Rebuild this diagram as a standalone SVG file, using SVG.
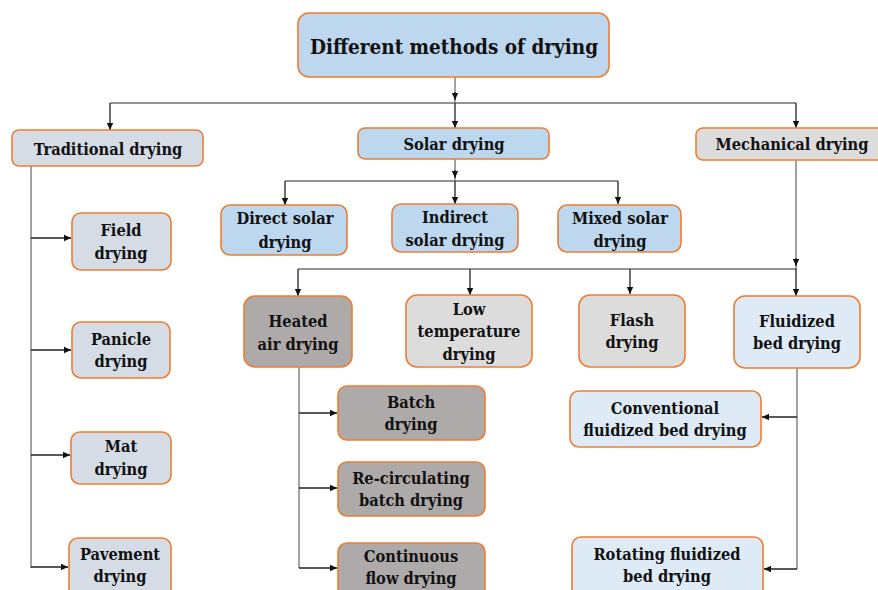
<svg xmlns="http://www.w3.org/2000/svg" width="878" height="590" viewBox="0 0 878 590">
<defs>
<marker id="ar" markerWidth="8" markerHeight="8" refX="7" refY="4" orient="auto" markerUnits="userSpaceOnUse">
<path d="M0,0.8 L7,4 L0,7.2 Z" fill="#111"/>
</marker>
<style>
.b{stroke:#ed7d31;stroke-width:1.6}
.blue{fill:#bdd7ee}
.lblue{fill:#deebf7}
.gblue{fill:#d6dce5}
.lgray{fill:#dcdcdc}
.dgray{fill:#aeaaaa}
text{font-family:"DejaVu Serif Condensed","DejaVu Serif","Liberation Serif",serif;font-stretch:condensed;font-weight:bold;font-size:16.3px;fill:#111;text-anchor:middle}
.t{font-size:20.5px}
.c line,.c path{stroke:#707070;stroke-width:1.3;fill:none}
.c .a{stroke:#222;marker-end:url(#ar)}
</style>
</defs>
<rect width="878" height="590" fill="#fff"/>
<g class="c" id="connectors">
<line x1="455" y1="77" x2="455" y2="103"/>
<line class="a" x1="455" y1="92" x2="455" y2="100"/>
<line x1="110" y1="103" x2="796" y2="103"/>
<line class="a" x1="110" y1="103" x2="110" y2="130"/>
<line class="a" x1="455" y1="103" x2="455" y2="128"/>
<line class="a" x1="796" y1="103" x2="796" y2="128"/>
<line x1="455" y1="159" x2="455" y2="181"/>
<line class="a" x1="455" y1="170" x2="455" y2="178"/>
<line x1="285" y1="181" x2="618" y2="181"/>
<line class="a" x1="285" y1="181" x2="285" y2="205"/>
<line class="a" x1="455" y1="181" x2="455" y2="204"/>
<line class="a" x1="618" y1="181" x2="618" y2="204"/>
<line x1="796" y1="160" x2="796" y2="269"/>
<line class="a" x1="796" y1="258" x2="796" y2="266"/>
<line x1="298" y1="269" x2="797" y2="269"/>
<line class="a" x1="298" y1="269" x2="298" y2="296"/>
<line class="a" x1="470" y1="269" x2="470" y2="295"/>
<line class="a" x1="630" y1="269" x2="630" y2="294"/>
<line class="a" x1="796" y1="269" x2="796" y2="296"/>
<line x1="31" y1="166" x2="31" y2="568"/>
<line class="a" x1="31" y1="238" x2="71" y2="238"/>
<line class="a" x1="31" y1="350" x2="71" y2="350"/>
<line class="a" x1="31" y1="455" x2="70" y2="455"/>
<line class="a" x1="31" y1="567" x2="68" y2="567"/>
<line x1="299" y1="367" x2="299" y2="568"/>
<line class="a" x1="299" y1="413" x2="337" y2="413"/>
<line class="a" x1="299" y1="488" x2="337" y2="488"/>
<line class="a" x1="299" y1="568" x2="337" y2="568"/>
<line x1="797" y1="368" x2="797" y2="569"/>
<line class="a" x1="797" y1="417" x2="762" y2="417"/>
<line class="a" x1="797" y1="569" x2="764" y2="569"/>
</g>
<g id="title"><rect class="b blue" x="298" y="13" width="311" height="64" rx="11"/><text class="t" x="454" y="54">Different methods of drying</text></g>
<g id="traditional"><rect class="b gblue" x="12" y="130" width="191" height="36" rx="7"/><text x="108" y="155">Traditional drying</text></g>
<g id="solar"><rect class="b blue" x="358" y="128" width="191" height="31" rx="7"/><text x="454" y="150">Solar drying</text></g>
<g id="mechanical"><rect class="b lgray" x="696" y="128" width="190" height="32" rx="7"/><text x="792" y="150">Mechanical drying</text></g>
<g id="direct"><rect class="b blue" x="221" y="205" width="126" height="50" rx="9"/><text x="285" y="224">Direct solar</text><text x="285" y="248">drying</text></g>
<g id="indirect"><rect class="b blue" x="392" y="204" width="126" height="48" rx="9"/><text x="455" y="223">Indirect</text><text x="455" y="246">solar drying</text></g>
<g id="mixed"><rect class="b blue" x="558" y="205" width="123" height="47" rx="9"/><text x="620" y="224">Mixed solar</text><text x="620" y="247">drying</text></g>
<g id="heated"><rect class="b dgray" x="244" y="296" width="108" height="71" rx="11"/><text x="298" y="327">Heated</text><text x="298" y="350">air drying</text></g>
<g id="lowtemp"><rect class="b lgray" x="406" y="295" width="126" height="72" rx="11"/><text x="469" y="315">Low</text><text x="469" y="337">temperature</text><text x="469" y="360">drying</text></g>
<g id="flash"><rect class="b lgray" x="579" y="295" width="106" height="72" rx="11"/><text x="632" y="326">Flash</text><text x="632" y="348">drying</text></g>
<g id="fluidized"><rect class="b lblue" x="734" y="296" width="126" height="72" rx="11"/><text x="797" y="327">Fluidized</text><text x="797" y="349">bed drying</text></g>
<g id="field"><rect class="b gblue" x="72" y="213" width="99" height="57" rx="9"/><text x="121" y="236">Field</text><text x="121" y="259">drying</text></g>
<g id="panicle"><rect class="b gblue" x="72" y="322" width="98" height="56" rx="9"/><text x="121" y="345">Panicle</text><text x="121" y="367">drying</text></g>
<g id="mat"><rect class="b gblue" x="71" y="432" width="100" height="52" rx="9"/><text x="121" y="452">Mat</text><text x="121" y="475">drying</text></g>
<g id="pavement"><rect class="b gblue" x="69" y="538" width="102" height="60" rx="9"/><text x="120" y="560">Pavement</text><text x="120" y="582">drying</text></g>
<g id="batch"><rect class="b dgray" x="338" y="386" width="147" height="54" rx="9"/><text x="411" y="408">Batch</text><text x="411" y="430">drying</text></g>
<g id="recirc"><rect class="b dgray" x="338" y="462" width="147" height="54" rx="9"/><text x="411" y="484">Re-circulating</text><text x="411" y="506">batch drying</text></g>
<g id="continuous"><rect class="b dgray" x="338" y="543" width="147" height="60" rx="9"/><text x="411" y="562">Continuous</text><text x="411" y="584">flow drying</text></g>
<g id="conventional"><rect class="b lblue" x="570" y="391" width="191" height="56" rx="9"/><text x="665" y="414">Conventional</text><text x="665" y="436">fluidized bed drying</text></g>
<g id="rotating"><rect class="b lblue" x="572" y="537" width="191" height="62" rx="9"/><text x="667" y="560">Rotating fluidized</text><text x="667" y="582">bed drying</text></g>
</svg>
